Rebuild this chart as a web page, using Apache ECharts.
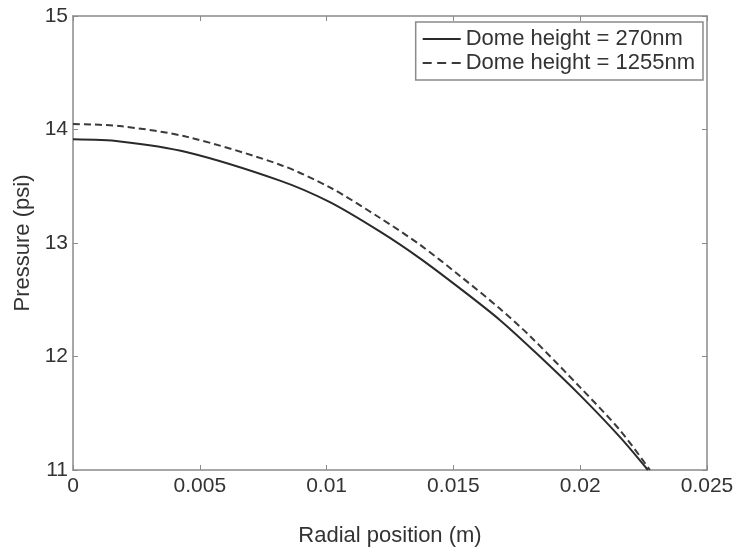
<!DOCTYPE html>
<html>
<head>
<meta charset="utf-8">
<script src="https://cdn.jsdelivr.net/npm/echarts@6/dist/echarts.min.js"></script>
<style>
html,body{margin:0;padding:0;background:#fff;}
#chart{width:736px;height:552px;}
</style>
</head>
<body>
<div id="chart"></div>
<script>
// Data
var radialSolid = [0, 0.00185, 0.0045, 0.00816, 0.01013, 0.01211, 0.01368, 0.01526, 0.01684, 0.01841, 0.01999, 0.02157, 0.02267];
var pressureSolid = [13.913, 13.895, 13.80, 13.55, 13.36, 13.10, 12.865, 12.60, 12.32, 12.00, 11.66, 11.29, 11.0];
var radialDashed = [0, 0.00185, 0.0045, 0.00816, 0.01013, 0.01211, 0.01368, 0.01526, 0.01684, 0.01802, 0.01999, 0.02157, 0.02275];
var pressureDashed = [14.048, 14.030, 13.935, 13.69, 13.49, 13.22, 12.985, 12.71, 12.42, 12.18, 11.73, 11.35, 11.0];
var seriesNames = ['Dome height = 270nm', 'Dome height = 1255nm'];
var xTicks = [0, 0.005, 0.01, 0.015, 0.02, 0.025];
var yTicks = [11, 12, 13, 14, 15];

function pairs(xs, ys) { return xs.map(function (x, i) { return [x, ys[i]]; }); }

var FONT = 'Liberation Sans, Arial, sans-serif';
var AXC = '#8a8a8a';
var TXC = '#333333';

var chart = echarts.init(document.getElementById('chart'), null, {renderer: 'canvas'});

function xAx(pos, showLabel) {
  return {
    type: 'value', position: pos,
    min: xTicks[0], max: xTicks[xTicks.length - 1], interval: xTicks[1] - xTicks[0],
    name: showLabel ? 'Radial position (m)' : '',
    nameLocation: 'middle', nameGap: 55,
    nameTextStyle: {fontFamily: FONT, fontSize: 22, color: TXC},
    axisLine: {show: true, onZero: false, lineStyle: {color: AXC, width: 1.5}},
    axisTick: {show: true, inside: true, length: 5, lineStyle: {color: AXC, width: 1}},
    axisLabel: {show: showLabel, fontFamily: FONT, fontSize: 21, color: TXC, margin: 6,
      formatter: function (v) { return String(+v.toFixed(3)); }},
    splitLine: {show: false}
  };
}
function yAx(pos, showLabel) {
  return {
    type: 'value', position: pos,
    min: yTicks[0], max: yTicks[yTicks.length - 1], interval: yTicks[1] - yTicks[0],
    name: showLabel ? 'Pressure (psi)' : '',
    nameLocation: 'middle', nameGap: 37,
    nameTextStyle: {fontFamily: FONT, fontSize: 22, color: TXC},
    axisLine: {show: true, onZero: false, lineStyle: {color: AXC, width: 1.5}},
    axisTick: {show: true, inside: true, length: 5, lineStyle: {color: AXC, width: 1}},
    axisLabel: {show: showLabel, fontFamily: FONT, fontSize: 21, color: TXC, margin: 5},
    splitLine: {show: false}
  };
}

chart.setOption({
  backgroundColor: '#ffffff',
  animation: false,
  grid: {left: 73, right: 29, top: 16, bottom: 82, containLabel: false, outerBoundsMode: 'none'},
  xAxis: [xAx('bottom', true), xAx('top', false)],
  yAxis: [yAx('left', true), yAx('right', false)],
  legend: {
    show: true, orient: 'vertical', right: 33, top: 22,
    padding: [6, 8, 6, 7],
    itemWidth: 38, itemHeight: 2, itemGap: 2, itemTextGap: 3,
    borderColor: AXC, borderWidth: 1.5, backgroundColor: '#ffffff',
    textStyle: {fontFamily: FONT, fontSize: 22, color: TXC, lineHeight: 22},
    data: [
      {name: seriesNames[0], icon: 'path://M0,0h38v2h-38z', itemStyle: {color: '#2a2a2a'}},
      {name: seriesNames[1], icon: 'path://M0,0h9v2h-9zM14.5,0h9v2h-9zM29,0h9v2h-9z', itemStyle: {color: '#3a3a3a'}}
    ]
  },
  series: [
    {
      name: seriesNames[0], type: 'line', xAxisIndex: 0, yAxisIndex: 0,
      data: pairs(radialSolid, pressureSolid), smooth: 0.3,
      showSymbol: false, symbol: 'none',
      lineStyle: {color: '#2a2a2a', width: 2, type: 'solid'},
      itemStyle: {color: '#2a2a2a'}
    },
    {
      name: seriesNames[1], type: 'line', xAxisIndex: 0, yAxisIndex: 0,
      data: pairs(radialDashed, pressureDashed), smooth: 0.3,
      showSymbol: false, symbol: 'none',
      lineStyle: {color: '#3a3a3a', width: 2, type: [7, 4]},
      itemStyle: {color: '#3a3a3a'}
    }
  ]
});
</script>
</body>
</html>
